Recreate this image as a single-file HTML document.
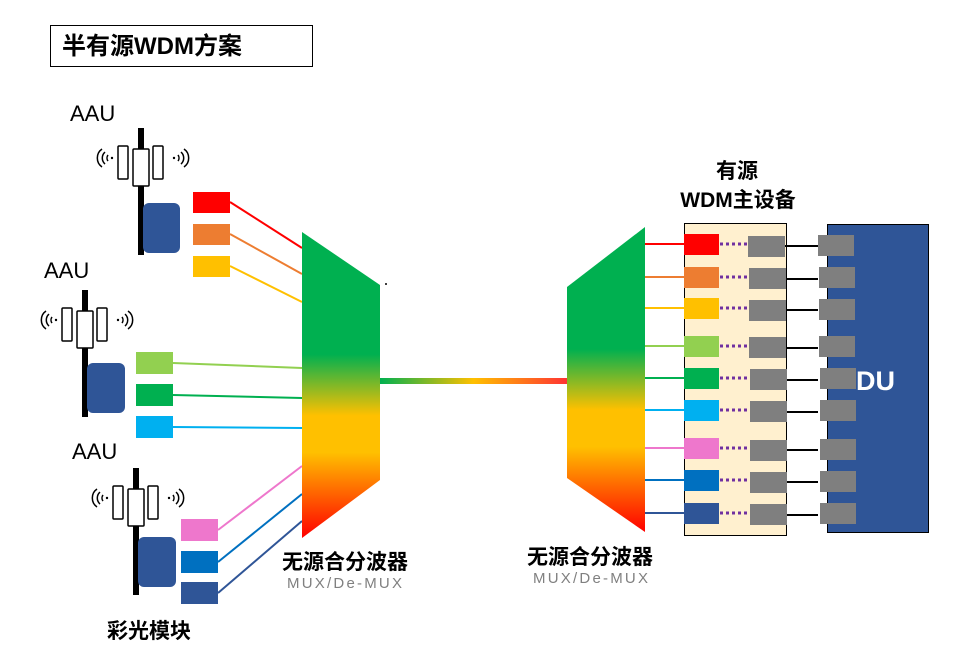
<!DOCTYPE html>
<html><head><meta charset="utf-8"><style>
body{margin:0;background:#fff;}
svg{display:block;}
text{font-family:"Liberation Sans","Noto Sans CJK SC",sans-serif;}
</style></head><body>
<svg width="960" height="662" viewBox="0 0 960 662" xmlns="http://www.w3.org/2000/svg">
<defs>
<linearGradient id="gm" x1="0" y1="0" x2="0" y2="1">
<stop offset="0" stop-color="#00b050"/><stop offset="0.4" stop-color="#00b050"/>
<stop offset="0.6" stop-color="#ffc000"/><stop offset="0.72" stop-color="#ffc000"/>
<stop offset="1" stop-color="#ff0000"/></linearGradient>
<linearGradient id="gf" x1="0" y1="0" x2="1" y2="0">
<stop offset="0" stop-color="#00b050"/><stop offset="0.5" stop-color="#ffc000"/><stop offset="1" stop-color="#ff3333"/></linearGradient>
<g id="tw">
<rect x="-3" y="0" width="6" height="127" fill="#000"/>
<rect x="-23" y="18" width="10" height="33" fill="#fff" stroke="#000" stroke-width="1.5" rx="1"/>
<rect x="-8" y="21" width="16" height="37" fill="#fff" stroke="#000" stroke-width="1.5" rx="1"/>
<rect x="12" y="18" width="10" height="33" fill="#fff" stroke="#000" stroke-width="1.5" rx="1"/>
<path d="M-33 27 a5 5 0 0 0 0 6 M-36 24 a8 8 0 0 0 0 12 M-39 21 a11 11 0 0 0 0 18" fill="none" stroke="#000" stroke-width="1.5"/>
<circle cx="-29" cy="30" r="1.2" fill="#000"/>
<path d="M37 27 a5 5 0 0 1 0 6 M40 24 a8 8 0 0 1 0 12 M43 21 a11 11 0 0 1 0 18" fill="none" stroke="#000" stroke-width="1.5"/>
<circle cx="33" cy="30" r="1.2" fill="#000"/>
</g>
</defs>
<rect x="50.5" y="25.5" width="262" height="41" fill="#fff" stroke="#000"/>
<text x="62" y="54" font-size="24" font-weight="bold">半有源WDM方案</text>

<text x="70" y="121" font-size="22">AAU</text>
<use href="#tw" x="141" y="128"/>
<rect x="143" y="203" width="37" height="50" rx="6" fill="#2f5597"/>
<text x="44" y="278" font-size="22">AAU</text>
<use href="#tw" x="85" y="290"/>
<rect x="87" y="363" width="38" height="50" rx="6" fill="#2f5597"/>
<text x="72" y="459" font-size="22">AAU</text>
<use href="#tw" x="136" y="468"/>
<rect x="138" y="537" width="38" height="50" rx="6" fill="#2f5597"/>

<g stroke-width="2">
<line x1="230" y1="202" x2="302" y2="248" stroke="#ff0000"/>
<line x1="230" y1="234" x2="302" y2="274" stroke="#ed7d31"/>
<line x1="230" y1="266" x2="302" y2="302" stroke="#ffc000"/>
<line x1="173" y1="363" x2="302" y2="368" stroke="#92d050"/>
<line x1="173" y1="395" x2="302" y2="398" stroke="#00b050"/>
<line x1="173" y1="427" x2="302" y2="428" stroke="#00b0f0"/>
<line x1="218" y1="530" x2="302" y2="466" stroke="#ee77cc"/>
<line x1="218" y1="562" x2="302" y2="494" stroke="#0070c0"/>
<line x1="218" y1="593" x2="302" y2="521" stroke="#2f5597"/>
</g>
<rect x="193" y="192" width="37" height="21" fill="#ff0000"/>
<rect x="193" y="224" width="37" height="21" fill="#ed7d31"/>
<rect x="193" y="256" width="37" height="21" fill="#ffc000"/>
<rect x="136" y="352" width="37" height="22" fill="#92d050"/>
<rect x="136" y="384" width="37" height="22" fill="#00b050"/>
<rect x="136" y="416" width="37" height="22" fill="#00b0f0"/>
<rect x="181" y="519" width="37" height="22" fill="#ee77cc"/>
<rect x="181" y="551" width="37" height="22" fill="#0070c0"/>
<rect x="181" y="582" width="37" height="22" fill="#2f5597"/>
<text x="107" y="638" font-size="21" font-weight="bold">彩光模块</text>

<polygon points="302,232 380,285 380,480 302,538" fill="url(#gm)"/>
<circle cx="386" cy="284" r="1" fill="#000"/>
<rect x="380" y="378" width="187" height="6" fill="url(#gf)"/>
<polygon points="567,287 645,227 645,532 567,478" fill="url(#gm)"/>
<text x="282" y="569" font-size="21" font-weight="bold">无源合分波器</text>
<text x="287" y="588" font-size="15" fill="#808080" textLength="115" lengthAdjust="spacing">MUX/De-MUX</text>
<text x="527" y="564" font-size="21" font-weight="bold">无源合分波器</text>
<text x="533" y="583" font-size="15" fill="#808080" textLength="115" lengthAdjust="spacing">MUX/De-MUX</text>

<text x="737" y="178" font-size="21" font-weight="bold" text-anchor="middle">有源</text>
<text x="738" y="207" font-size="21" font-weight="bold" text-anchor="middle">WDM主设备</text>
<rect x="684.5" y="223.5" width="102" height="312" fill="#fff0cf" stroke="#000"/>
<rect x="827.5" y="224.5" width="101" height="308" fill="#2f5597" stroke="#000"/>
<text x="856" y="390" font-size="27" font-weight="bold" fill="#fff">DU</text>

<g>
<g transform="translate(0,244)"><line x1="645" y1="0" x2="684" y2="0" stroke="#ff0000" stroke-width="2"/><rect x="684" y="-10" width="35" height="21" fill="#ff0000"/></g>
<g transform="translate(0,277)"><line x1="645" y1="0" x2="684" y2="0" stroke="#ed7d31" stroke-width="2"/><rect x="684" y="-10" width="35" height="21" fill="#ed7d31"/></g>
<g transform="translate(0,308)"><line x1="645" y1="0" x2="684" y2="0" stroke="#ffc000" stroke-width="2"/><rect x="684" y="-10" width="35" height="21" fill="#ffc000"/></g>
<g transform="translate(0,346)"><line x1="645" y1="0" x2="684" y2="0" stroke="#92d050" stroke-width="2"/><rect x="684" y="-10" width="35" height="21" fill="#92d050"/></g>
<g transform="translate(0,378)"><line x1="645" y1="0" x2="684" y2="0" stroke="#00b050" stroke-width="2"/><rect x="684" y="-10" width="35" height="21" fill="#00b050"/></g>
<g transform="translate(0,410)"><line x1="645" y1="0" x2="684" y2="0" stroke="#00b0f0" stroke-width="2"/><rect x="684" y="-10" width="35" height="21" fill="#00b0f0"/></g>
<g transform="translate(0,448)"><line x1="645" y1="0" x2="684" y2="0" stroke="#ee77cc" stroke-width="2"/><rect x="684" y="-10" width="35" height="21" fill="#ee77cc"/></g>
<g transform="translate(0,480)"><line x1="645" y1="0" x2="684" y2="0" stroke="#0070c0" stroke-width="2"/><rect x="684" y="-10" width="35" height="21" fill="#0070c0"/></g>
<g transform="translate(0,513)"><line x1="645" y1="0" x2="684" y2="0" stroke="#2f5597" stroke-width="2"/><rect x="684" y="-10" width="35" height="21" fill="#2f5597"/></g>
</g>
<g stroke="#7030a0" stroke-width="3" stroke-dasharray="3,3">
<line x1="720" y1="244" x2="748" y2="244"/><line x1="720" y1="277" x2="748" y2="277"/><line x1="720" y1="308" x2="748" y2="308"/>
<line x1="720" y1="346" x2="748" y2="346"/><line x1="720" y1="378" x2="748" y2="378"/><line x1="720" y1="410" x2="748" y2="410"/>
<line x1="720" y1="448" x2="748" y2="448"/><line x1="720" y1="480" x2="748" y2="480"/><line x1="720" y1="513" x2="748" y2="513"/>
</g>
<g stroke="#000" stroke-width="2">
<line x1="785" y1="246" x2="818" y2="246"/><line x1="785" y1="279" x2="818" y2="279"/><line x1="785" y1="310" x2="818" y2="310"/>
<line x1="785" y1="348" x2="818" y2="348"/><line x1="785" y1="380" x2="818" y2="380"/><line x1="785" y1="412" x2="818" y2="412"/>
<line x1="785" y1="450" x2="818" y2="450"/><line x1="785" y1="482" x2="818" y2="482"/><line x1="785" y1="515" x2="818" y2="515"/>
</g>
<g fill="#7f7f7f">
<rect x="748" y="236" width="37" height="21"/><rect x="818" y="235" width="36" height="21"/>
<rect x="749" y="268" width="37" height="21"/><rect x="819" y="267" width="36" height="21"/>
<rect x="749" y="300" width="37" height="21"/><rect x="819" y="299" width="36" height="21"/>
<rect x="749" y="337" width="37" height="21"/><rect x="819" y="336" width="36" height="21"/>
<rect x="750" y="369" width="37" height="21"/><rect x="820" y="368" width="36" height="21"/>
<rect x="750" y="401" width="37" height="21"/><rect x="820" y="400" width="36" height="21"/>
<rect x="750" y="440" width="37" height="21"/><rect x="820" y="439" width="36" height="21"/>
<rect x="750" y="472" width="37" height="21"/><rect x="820" y="471" width="36" height="21"/>
<rect x="750" y="504" width="37" height="21"/><rect x="820" y="503" width="36" height="21"/>
</g>
</svg>
</body></html>
